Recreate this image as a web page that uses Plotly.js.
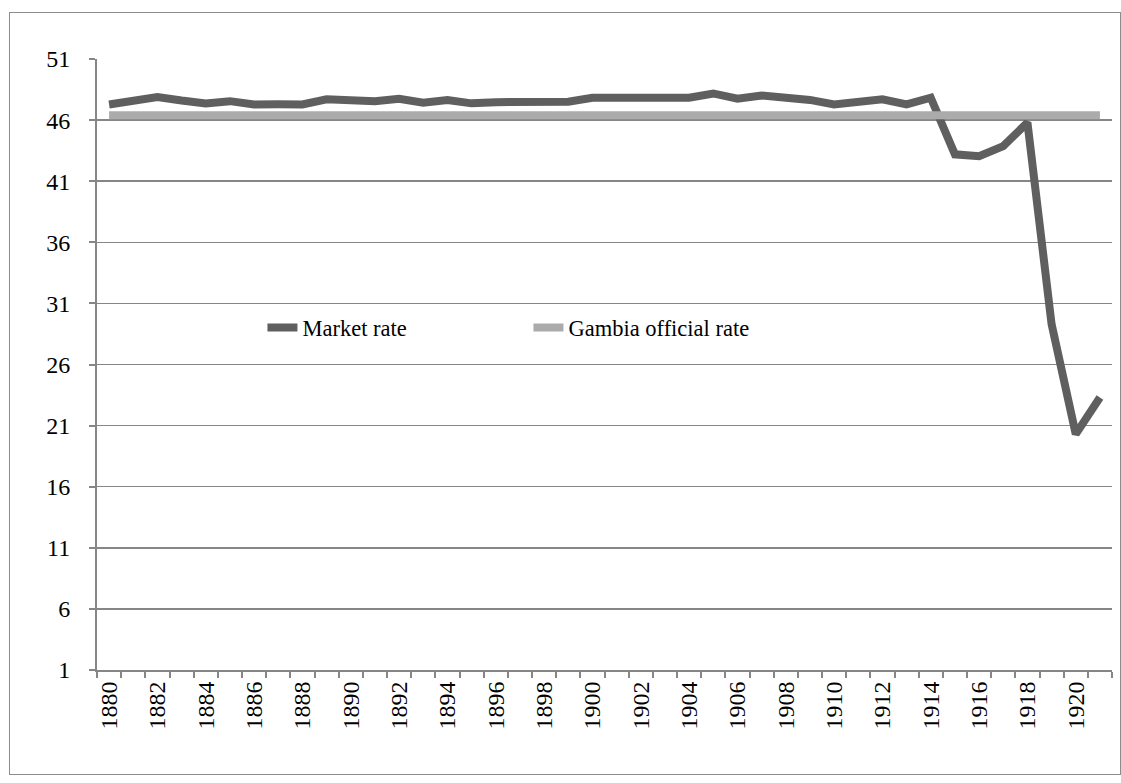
<!DOCTYPE html>
<html>
<head>
<meta charset="utf-8">
<script src="https://cdn.plot.ly/plotly-3.0.1.min.js"></script>
<style>
  html, body { margin: 0; padding: 0; background: #fff; }
  #wrap { position: relative; width: 1121px; height: 783px; }
  #chart { width: 1121px; height: 783px; }
  #frame { position: absolute; left: 9px; top: 12px; width: 1112px; height: 763px; border: 1px solid #8c8c8c; box-sizing: border-box; pointer-events: none; }
</style>
</head>
<body>
<div id="wrap"><div id="chart"></div><div id="frame"></div></div>
<script>
const years = [1880,1881,1882,1883,1884,1885,1886,1887,1888,1889,
               1890,1891,1892,1893,1894,1895,1896,1897,1898,1899,
               1900,1901,1902,1903,1904,1905,1906,1907,1908,1909,
               1910,1911,1912,1913,1914,1915,1916,1917,1918,1919,
               1920,1921];
const marketRate = [47.28,47.5,47.88,47.6,47.37,47.55,47.28,47.3,47.28,47.7,
                    47.55,47.55,47.75,47.42,47.64,47.37,47.47,47.47,47.5,47.5,
                    47.83,47.8,47.88,47.75,47.83,48.18,47.75,48.02,47.88,47.65,
                    47.28,47.5,47.7,47.28,47.83,43.2,43.05,43.87,45.8,29.3,
                    20.3,23.3];
const officialRate = years.map(() => 46.4);
const yTicks = [1,6,11,16,21,26,31,36,41,46,51];
const xTickYears = years.filter(y => (y - 1880) % 2 === 0);

const font = 'Liberation Serif, Times New Roman, serif';

const traces = [
  { x: years, y: marketRate, name: 'Market rate', type: 'scatter', mode: 'lines',
    line: { color: '#5f5f5f', width: 8 } },
  { x: years, y: officialRate, name: 'Gambia official rate', type: 'scatter', mode: 'lines',
    line: { color: '#ababab', width: 8 } }
];

const layout = {
  width: 1121, height: 783,
  margin: { l: 97, r: 9, t: 59, b: 113 },
  paper_bgcolor: '#fff', plot_bgcolor: '#fff',
  font: { family: font, size: 22, color: '#000' },
  showlegend: true,
  legend: { orientation: 'h', x: 0.163, y: 0.56, xanchor: 'left', yanchor: 'middle',
            bgcolor: 'rgba(0,0,0,0)', font: { family: font, size: 22.5, color: '#000' },
            entrywidth: 221, entrywidthmode: 'pixels' },
  xaxis: {
    range: [1879.5, 1921.5], tickmode: 'array', tickvals: xTickYears,
    ticktext: xTickYears.map(String), tickangle: -90, ticks: '',
    showgrid: false, zeroline: false, showline: true, linecolor: '#868686', linewidth: 2,
    tickfont: { family: font, size: 24, color: '#000' },
    minor: { tick0: 1879.5, dtick: 1, ticks: 'outside', ticklen: 6, tickcolor: '#868686', tickwidth: 2, showgrid: false }
  },
  yaxis: {
    range: [1, 51], tickmode: 'array', tickvals: yTicks, ticktext: yTicks.map(String),
    ticks: 'outside', ticklen: 6, tickcolor: '#868686', tickwidth: 2,
    showgrid: true, gridcolor: '#868686', gridwidth: 1.5,
    zeroline: false, showline: true, linecolor: '#868686', linewidth: 2,
    ticklabelstandoff: 14,
    tickfont: { family: font, size: 24, color: '#000' }
  }
};

Plotly.newPlot('chart', traces, layout, { displayModeBar: false, staticPlot: true });
</script>
</body>
</html>
